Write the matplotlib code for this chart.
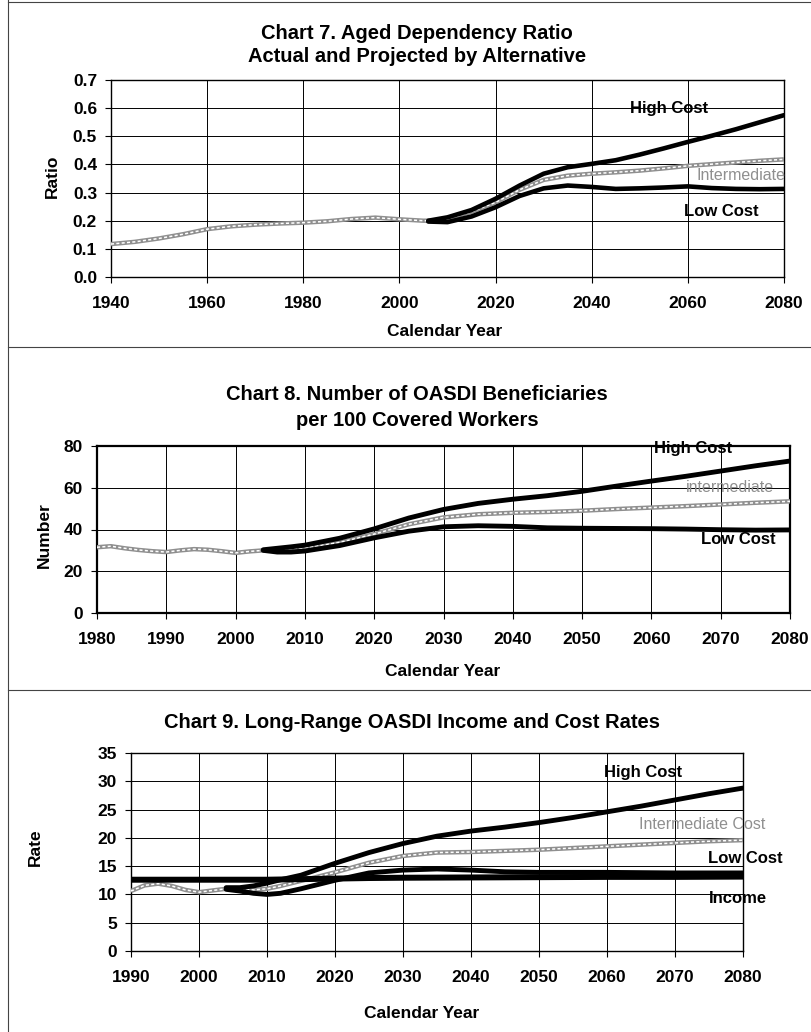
import numpy as np
import matplotlib
matplotlib.use("Agg")
import matplotlib.pyplot as plt
from matplotlib.lines import Line2D

plt.rcParams['font.family'] = ['Liberation Sans', 'DejaVu Sans']

W, H = 812, 1032

# ---- Chart 7: aged dependency ratio ----
c7_int_years = [1940, 1945, 1950, 1955, 1960, 1965, 1970, 1975, 1980, 1985, 1990, 1995,
                2000, 2005, 2008, 2010, 2015, 2020, 2025, 2030, 2035, 2040, 2045, 2050,
                2055, 2060, 2065, 2070, 2075, 2080]
c7_int = [0.117, 0.125, 0.137, 0.152, 0.170, 0.180, 0.186, 0.190, 0.193, 0.198, 0.206, 0.211,
          0.205, 0.200, 0.201, 0.207, 0.232, 0.265, 0.310, 0.345, 0.360, 0.367, 0.372, 0.378,
          0.386, 0.395, 0.401, 0.407, 0.413, 0.418]
c7_proj_years = [2006, 2010, 2015, 2020, 2025, 2030, 2035, 2040, 2045, 2050, 2055, 2060,
                 2065, 2070, 2075, 2080]
c7_high = [0.200, 0.212, 0.238, 0.278, 0.325, 0.367, 0.390, 0.402, 0.415, 0.435, 0.457, 0.480,
           0.502, 0.525, 0.550, 0.575]
c7_low = [0.197, 0.195, 0.215, 0.248, 0.288, 0.315, 0.325, 0.320, 0.313, 0.315, 0.318, 0.322,
          0.316, 0.313, 0.312, 0.313]

# ---- Chart 8: beneficiaries per 100 covered workers ----
c8_int_years = [1980, 1982, 1984, 1986, 1988, 1990, 1992, 1994, 1996, 1998, 2000, 2002, 2004,
                2006, 2010, 2015, 2020, 2025, 2030, 2035, 2040, 2045, 2050, 2055, 2060, 2065,
                2070, 2075, 2080]
c8_int = [31.5, 32.0, 31.0, 30.2, 29.6, 29.2, 30.0, 30.6, 30.3, 29.6, 28.8, 29.5, 30.0,
          30.4, 31.2, 33.8, 37.8, 42.5, 45.8, 47.3, 48.0, 48.4, 49.0, 49.8, 50.5, 51.2,
          52.0, 52.8, 53.5]
c8_proj_years = [2004, 2006, 2008, 2010, 2015, 2020, 2025, 2030, 2035, 2040, 2045, 2050, 2055,
                 2060, 2065, 2070, 2075, 2080]
c8_high = [30.3, 31.0, 31.7, 32.5, 35.8, 40.3, 45.5, 49.6, 52.5, 54.5, 56.2, 58.3, 60.8,
           63.2, 65.5, 68.0, 70.5, 72.8]
c8_low = [30.0, 29.2, 29.2, 29.7, 32.3, 36.0, 39.2, 41.3, 41.8, 41.5, 40.8, 40.6, 40.5,
          40.4, 40.2, 39.9, 39.7, 39.8]

# ---- Chart 9: income and cost rates ----
c9_int_years = [1990, 1992, 1994, 1996, 1998, 2000, 2002, 2004, 2006, 2008, 2010, 2012, 2015,
                2020, 2025, 2030, 2035, 2040, 2045, 2050, 2055, 2060, 2065, 2070, 2075, 2080]
c9_int = [10.6, 11.6, 11.9, 11.5, 10.8, 10.4, 10.7, 11.0, 10.9, 10.8, 11.0, 11.5, 12.4,
          13.9, 15.6, 16.8, 17.4, 17.5, 17.7, 17.9, 18.2, 18.5, 18.8, 19.1, 19.4, 19.6]
c9_proj_years = [2004, 2006, 2008, 2010, 2012, 2015, 2020, 2025, 2030, 2035, 2040, 2045, 2050,
                 2055, 2060, 2065, 2070, 2075, 2080]
c9_high = [11.2, 11.2, 11.5, 12.0, 12.6, 13.4, 15.5, 17.4, 19.0, 20.3, 21.2, 21.9, 22.7,
           23.6, 24.6, 25.6, 26.7, 27.8, 28.8]
c9_low = [10.9, 10.6, 10.2, 10.0, 10.2, 11.0, 12.5, 13.8, 14.3, 14.5, 14.3, 14.0, 13.9,
          13.9, 13.9, 13.85, 13.8, 13.8, 13.8]
c9_income_years = [1990, 2000, 2010, 2015, 2020, 2025, 2030, 2040, 2050, 2060, 2070, 2080]
c9_income = [12.6, 12.6, 12.6, 12.7, 12.8, 12.9, 12.95, 13.0, 13.05, 13.1, 13.1, 13.15]

GRAY = '#8f8f8f'


def px_box(x0, y0, x1, y1):
    return [x0 / W, 1 - y1 / H, (x1 - x0) / W, (y1 - y0) / H]


def ftext(x, y, s, **kw):
    fig.text(x / W, 1 - y / H, s, ha='center', va='center', **kw)


def intermediate(ax, x, y):
    ax.plot(x, y, color=GRAY, lw=3.2, solid_capstyle='butt', zorder=3)
    ax.plot(x, y, color='white', lw=1.1, ls=(0, (2, 1.5)), zorder=3.1)


def thick(ax, x, y, lw=3.3):
    ax.plot(x, y, color='black', lw=lw, solid_capstyle='round', zorder=4)


def style_axes(ax, spine_lw=1.0):
    ax.grid(True, color='black', lw=0.7)
    ax.set_axisbelow(True)
    for s in ax.spines.values():
        s.set_linewidth(spine_lw)
    ax.tick_params(length=4, width=0.8, labelsize=12.5)
    ax.tick_params(axis='x', pad=10)
    ax.tick_params(axis='y', pad=6)
    for lab in ax.get_xticklabels() + ax.get_yticklabels():
        lab.set_fontweight('bold')


fig = plt.figure(figsize=(W / 100, H / 100), dpi=100)

# frame lines of the page
fig.add_artist(Line2D([8 / W, 8 / W], [0, 1], color='#444444', lw=0.8))
for yy in (2, 347, 690):
    fig.add_artist(Line2D([8 / W, 1], [1 - yy / H, 1 - yy / H], color='#444444', lw=0.8))

# Chart 7
ax7 = fig.add_axes(px_box(111, 80, 784, 277))
intermediate(ax7, c7_int_years, c7_int)
thick(ax7, c7_proj_years, c7_high)
thick(ax7, c7_proj_years, c7_low)
ax7.set_xlim(1940, 2080)
ax7.set_ylim(0, 0.7)
ax7.set_xticks(range(1940, 2081, 20))
ax7.set_yticks(np.arange(0, 0.71, 0.1))
ax7.set_yticklabels([f'{v:.1f}' for v in np.arange(0, 0.71, 0.1)])
style_axes(ax7)
ax7.text(2056, 0.60, 'High Cost', ha='center', va='center', fontsize=12, fontweight='bold')
ax7.text(2071, 0.359, 'Intermediate', ha='center', va='center', fontsize=11.5, color=GRAY)
ax7.text(2067, 0.234, 'Low Cost', ha='center', va='center', fontsize=12, fontweight='bold')
ftext(417, 33, 'Chart 7. Aged Dependency Ratio', fontsize=14.5, fontweight='bold')
ftext(417, 57, 'Actual and Projected by Alternative', fontsize=14.5, fontweight='bold')
ftext(445, 332, 'Calendar Year', fontsize=12.5, fontweight='bold')
ftext(52, 176, 'Ratio', fontsize=12.5, fontweight='bold', rotation=90)

# Chart 8
ax8 = fig.add_axes(px_box(97, 446, 790, 613))
intermediate(ax8, c8_int_years, c8_int)
thick(ax8, c8_proj_years, c8_high, 3.5)
thick(ax8, c8_proj_years, c8_low, 3.5)
ax8.set_xlim(1980, 2080)
ax8.set_ylim(0, 80)
ax8.set_xticks(range(1980, 2081, 10))
ax8.set_yticks(range(0, 81, 20))
style_axes(ax8, spine_lw=1.6)
ax8.text(2066, 79, 'High Cost', ha='center', va='center', fontsize=12, fontweight='bold')
ax8.text(2071.3, 59.9, 'intermediate', ha='center', va='center', fontsize=11.5, color=GRAY)
ax8.text(2072.5, 35.4, 'Low Cost', ha='center', va='center', fontsize=12, fontweight='bold')
ftext(417, 395, 'Chart 8. Number of OASDI Beneficiaries', fontsize=14.5, fontweight='bold')
ftext(417, 420, 'per 100 Covered Workers', fontsize=14.5, fontweight='bold')
ftext(443, 672, 'Calendar Year', fontsize=12.5, fontweight='bold')
ftext(44, 535, 'Number', fontsize=12.5, fontweight='bold', rotation=90)

# Chart 9
ax9 = fig.add_axes(px_box(131, 753, 743, 951))
intermediate(ax9, c9_int_years, c9_int)
thick(ax9, c9_proj_years, c9_high, 3.5)
thick(ax9, c9_proj_years, c9_low, 3.5)
ax9.plot(c9_income_years, c9_income, color='black', lw=4.3, zorder=4)
ax9.set_xlim(1990, 2080)
ax9.set_ylim(0, 35)
ax9.set_xticks(range(1990, 2081, 10))
ax9.set_yticks(range(0, 36, 5))
style_axes(ax9)
ax9.text(2065.3, 31.6, 'High Cost', ha='center', va='center', fontsize=12, fontweight='bold')
ax9.text(2074, 22.4, 'Intermediate Cost', ha='center', va='center', fontsize=11.5, color=GRAY,
         clip_on=False)
ax9.text(2080.3, 16.4, 'Low Cost', ha='center', va='center', fontsize=12, fontweight='bold',
         clip_on=False)
ax9.text(2079.2, 9.2, 'Income', ha='center', va='center', fontsize=12, fontweight='bold',
         clip_on=False)
ftext(412, 723, 'Chart 9. Long-Range OASDI Income and Cost Rates', fontsize=14.5, fontweight='bold')
ftext(422, 1013, 'Calendar Year', fontsize=12.5, fontweight='bold')
ftext(35, 847, 'Rate', fontsize=12.5, fontweight='bold', rotation=90)

fig.savefig('out.png', dpi=100)
